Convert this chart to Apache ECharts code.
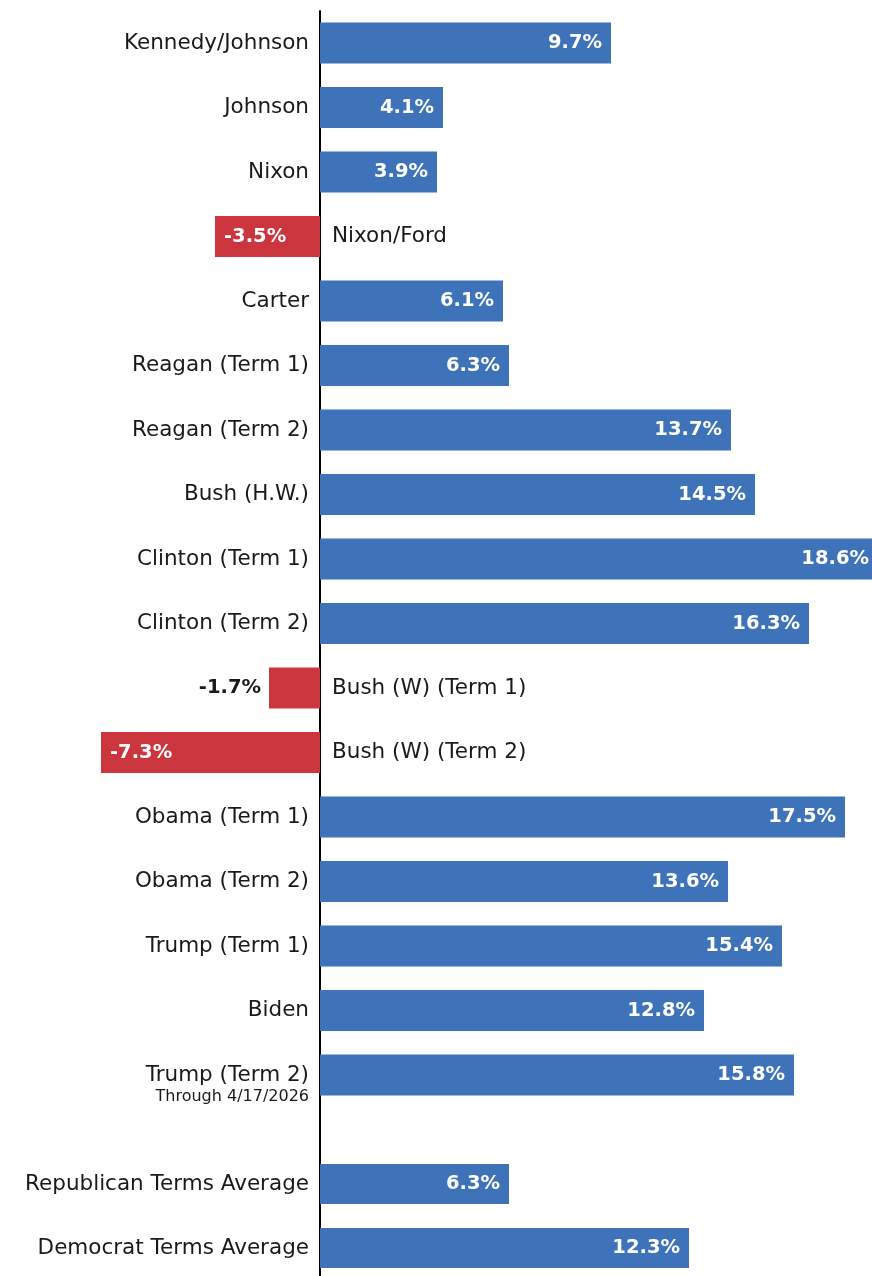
<!DOCTYPE html>
<html>
<head>
<meta charset="utf-8">
<script src="https://cdn.jsdelivr.net/npm/echarts@6/dist/echarts.min.js"></script>
<style>
  html, body { margin: 0; padding: 0; background: #ffffff; }
  #chart { width: 872px; height: 1276px; }
</style>
</head>
<body>
<div id="chart"></div>
<script>
// Annualized S&P 500 returns by presidential term
const termNames = [
  'Kennedy/Johnson', 'Johnson', 'Nixon', 'Nixon/Ford', 'Carter',
  'Reagan (Term 1)', 'Reagan (Term 2)', 'Bush (H.W.)', 'Clinton (Term 1)',
  'Clinton (Term 2)', 'Bush (W) (Term 1)', 'Bush (W) (Term 2)',
  'Obama (Term 1)', 'Obama (Term 2)', 'Trump (Term 1)', 'Biden', 'Trump (Term 2)'
];
const termReturns = [9.7, 4.1, 3.9, -3.5, 6.1, 6.3, 13.7, 14.5, 18.6, 16.3, -1.7, -7.3, 17.5, 13.6, 15.4, 12.8, 15.8];
const termNotes = { 'Trump (Term 2)': 'Through 4/17/2026' };

// spacer row first, then the party averages
const avgNames = ['', 'Republican Terms Average', 'Democrat Terms Average'];
const avgReturns = [null, 6.3, 12.3];

const BLUE = '#3E73B9';
const RED = '#CB353D';
const INK = '#1a1a1a';
const FONT = '"DejaVu Sans", sans-serif';

const X_MIN = -320 / 30;
const X_MAX = (872 - 320) / 30;

function valueItems(values) {
  return values.map(v => {
    if (v === null) return { value: null };
    const neg = v < 0;
    const shortBar = Math.abs(v) < 2.5;
    let label;
    if (!neg) {
      label = { position: 'insideRight', distance: 9, color: '#ffffff' };
    } else if (shortBar) {
      label = { position: 'left', distance: 8, color: INK };
    } else {
      label = { position: 'insideLeft', distance: 9, color: '#ffffff' };
    }
    return { value: v, itemStyle: { color: neg ? RED : BLUE }, label };
  });
}

function nameItems(values) {
  return values.map(v => {
    if (v === null) return { value: null };
    return {
      value: v,
      label: { position: v < 0 ? 'right' : 'left', distance: v < 0 ? 12 : 11 }
    };
  });
}

function nameFormatter(names) {
  return p => {
    const n = names[p.dataIndex];
    const note = termNotes[n];
    if (note) return '{s| }\n{n|' + n + '}\n{t|' + note + '}';
    return '{n|' + n + '}';
  };
}

const valueLabel = {
  show: true,
  fontFamily: FONT,
  fontWeight: 'bold',
  fontSize: 19.5,
  formatter: p => p.value.toFixed(1) + '%'
};

const nameLabel = names => ({
  show: true,
  formatter: nameFormatter(names),
  rich: {
    s: { fontSize: 15, lineHeight: 22, fontFamily: FONT },
    n: { fontSize: 21.5, lineHeight: 22, fontFamily: FONT, color: INK, align: 'right' },
    t: { fontSize: 16, lineHeight: 22, fontFamily: FONT, color: INK, align: 'right' }
  }
});

const hiddenX = gridIndex => ({ type: 'value', gridIndex, min: X_MIN, max: X_MAX, show: false });
const catY = (gridIndex, data, showLine, boundaryGap) => ({
  type: 'category', gridIndex, data, inverse: true, boundaryGap,
  axisLine: { show: showLine, lineStyle: { color: '#000000', width: 2 } },
  axisTick: { show: false },
  axisLabel: { show: false },
  splitLine: { show: false }
});

const chart = echarts.init(document.getElementById('chart'), null, { renderer: 'canvas' });
chart.setOption({
  animation: false,
  backgroundColor: '#ffffff',
  grid: [
    // presidential terms
    { left: 0, right: 0, top: 10.75, height: 17 * 64.5 },
    // spacer + averages, rows placed on the edges (boundaryGap off)
    { left: 0, right: 0, top: 1120, height: 128 },
    // full-height zero line
    { left: 0, right: 0, top: 11, bottom: 0 }
  ],
  xAxis: [hiddenX(0), hiddenX(1), hiddenX(2)],
  yAxis: [
    catY(0, termNames, false, true),
    catY(1, avgNames, false, false),
    catY(2, [''], true, true)
  ],
  series: [
    {
      type: 'bar', xAxisIndex: 0, yAxisIndex: 0, barWidth: 41, barGap: '-100%',
      clip: false, label: valueLabel, data: valueItems(termReturns), z: 3
    },
    {
      type: 'bar', xAxisIndex: 0, yAxisIndex: 0, barWidth: 41, barGap: '-100%',
      itemStyle: { color: 'rgba(0,0,0,0)' }, label: nameLabel(termNames),
      data: nameItems(termReturns), silent: true, z: 2
    },
    {
      type: 'bar', xAxisIndex: 1, yAxisIndex: 1, barWidth: 40, barGap: '-100%',
      clip: false, label: valueLabel, data: valueItems(avgReturns), z: 3
    },
    {
      type: 'bar', xAxisIndex: 1, yAxisIndex: 1, barWidth: 40, barGap: '-100%',
      itemStyle: { color: 'rgba(0,0,0,0)' }, label: nameLabel(avgNames),
      data: nameItems(avgReturns), silent: true, z: 2
    }
  ]
});
</script>
</body>
</html>
